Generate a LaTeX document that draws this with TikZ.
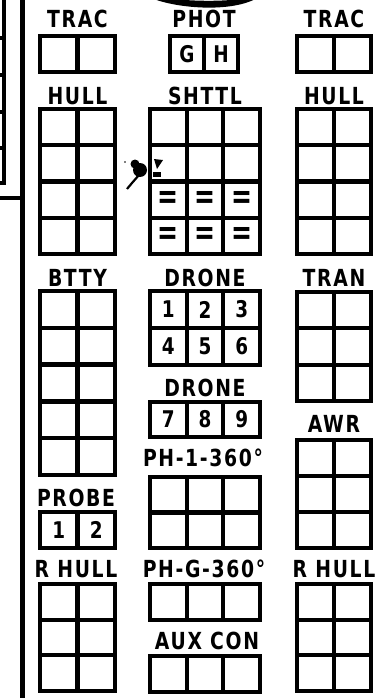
\documentclass[tikz,border=0pt]{standalone}
\usepackage{fontspec}
\usepackage{graphicx}
\newfontfamily\lbl{DejaVu Sans}[FakeStretch=0.8,LetterSpace=7]
\tikzset{
  cellbox/.style={draw=black, line width=4.3pt, inner sep=0pt, outer sep=0pt, anchor=north west},
  lbltext/.style={font=\lbl\bfseries\fontsize{23.5}{23.5}\selectfont, inner sep=0pt},
  celltext/.style={font=\lbl\bfseries\fontsize{23}{23}\selectfont, inner sep=0pt},
  eqtext/.style={inner sep=0pt},
  ink/.style={line width=4pt, line cap=butt}
}
\newcommand\eqsign{\resizebox{21pt}{17pt}{\lbl\bfseries =}}
\newcommand\gridbox[7]{%
  \foreach \cc in {1,...,#4}{%
    \foreach \rr in {1,...,#5}{%
      \node[cellbox, minimum width=#6pt, minimum height=#7pt] (#1-\rr-\cc) at ({#2+(\cc-1)*#6},{#3+(\rr-1)*#7}) {};
    }}}
\begin{document}
\begin{tikzpicture}[x=1pt,y=-1pt]
\useasboundingbox (0,0) rectangle (385,698);
% left edge fragments
\draw[line width=5.5pt] (22.5,-3) -- (22.5,701);
\draw[ink] (-3,183) -- (4,183) -- (4,-3);
\foreach \yy in {38,75,112,148} \draw[ink] (-3,\yy) -- (4,\yy);
\draw[ink] (-3,198) -- (22.5,198);
% top fragment
\fill (149,-3) .. controls (172,8) and (232,14) .. (259,-3) -- (250,-3) .. controls (228,3) and (178,1) .. (162,-3) -- cycle;
% ink blot
\fill (140,170) circle (7pt);
\fill (135,164) circle (4.5pt);
\draw[line width=2.2pt] (139,175) -- (132,183) -- (127,189);
\fill (154,159) -- (163,160) -- (157,169) -- cycle;
\fill (153,172) rectangle (161,177);
\fill (125,162) circle (0.8pt);

% ---- left column ----
\node[lbltext] (tTRACl) at (77.5,19) {TRAC};
\gridbox{ltrac}{40}{36}{2}{1}{37.5}{36}
\node[lbltext] (tHULLl) at (77.5,96) {HULL};
\gridbox{lhull}{40}{109}{2}{4}{37.5}{36.25}
\node[lbltext] (tBTTY) at (77.5,278) {BTTY};
\gridbox{btty}{40}{291}{2}{5}{37.5}{36.8}
\node[lbltext] (tPROBE) at (76,498) {PROBE};
\gridbox{probe}{40}{512}{2}{1}{37.5}{36}
\node[celltext] (p1) at (probe-1-1) {1};
\node[celltext] (p2) at (probe-1-2) {2};
\node[lbltext] (tRHULLl) at (76,569) {R HULL};
\gridbox{lrhull}{40}{584}{2}{3}{37.5}{35.67}

% ---- middle column ----
\node[lbltext] (tPHOT) at (204,19) {PHOT};
\gridbox{phot}{170}{36}{2}{1}{34}{36}
\node[celltext] (pG) at (phot-1-1) {G};
\node[celltext] (pH) at (phot-1-2) {H};
\node[lbltext] (tSHTTL) at (205,96) {SHTTL};
\gridbox{shttl}{150}{109}{3}{4}{36.67}{36.25}
\foreach \rr in {3,4}{\foreach \cc in {1,2,3}{\node[eqtext] (eq-\rr-\cc) at (shttl-\rr-\cc) {\eqsign};}}
\node[lbltext] (tDRONEa) at (205,278) {DRONE};
\gridbox{droneA}{150}{291}{3}{2}{36.67}{37}
\node[celltext] (d1) at (droneA-1-1) {1};
\node[celltext] (d2) at (droneA-1-2) {2};
\node[celltext] (d3) at (droneA-1-3) {3};
\node[celltext] (d4) at (droneA-2-1) {4};
\node[celltext] (d5) at (droneA-2-2) {5};
\node[celltext] (d6) at (droneA-2-3) {6};
\node[lbltext] (tDRONEb) at (205,388) {DRONE};
\gridbox{droneB}{150}{402}{3}{1}{36.67}{35}
\node[celltext] (d7) at (droneB-1-1) {7};
\node[celltext] (d8) at (droneB-1-2) {8};
\node[celltext] (d9) at (droneB-1-3) {9};
\node[lbltext] (tPH1) at (203,458) {PH-1-360°};
\gridbox{phone}{150}{477}{3}{2}{36.67}{35.5}
\node[lbltext] (tPHG) at (204,569) {PH-G-360°};
\gridbox{phg}{150}{584}{3}{1}{36.67}{36}
\node[lbltext] (tAUX) at (207,641) {AUX CON};
\gridbox{aux}{150}{656}{3}{1}{36.67}{36}

% ---- right column ----
\node[lbltext] (tTRACr) at (334,19) {TRAC};
\gridbox{rtrac}{297}{36}{2}{1}{37}{36}
\node[lbltext] (tHULLr) at (334,96) {HULL};
\gridbox{rhull}{297}{109}{2}{4}{37}{36.25}
\node[lbltext] (tTRAN) at (334,278) {TRAN};
\gridbox{tran}{297}{292}{2}{3}{37}{36.33}
\node[lbltext] (tAWR) at (334,424) {AWR};
\gridbox{awr}{297}{440}{2}{3}{37}{36}
\node[lbltext] (tRHULLr) at (334,569) {R HULL};
\gridbox{rrhull}{297}{584}{2}{3}{37}{35.67}
\end{tikzpicture}
\end{document}
